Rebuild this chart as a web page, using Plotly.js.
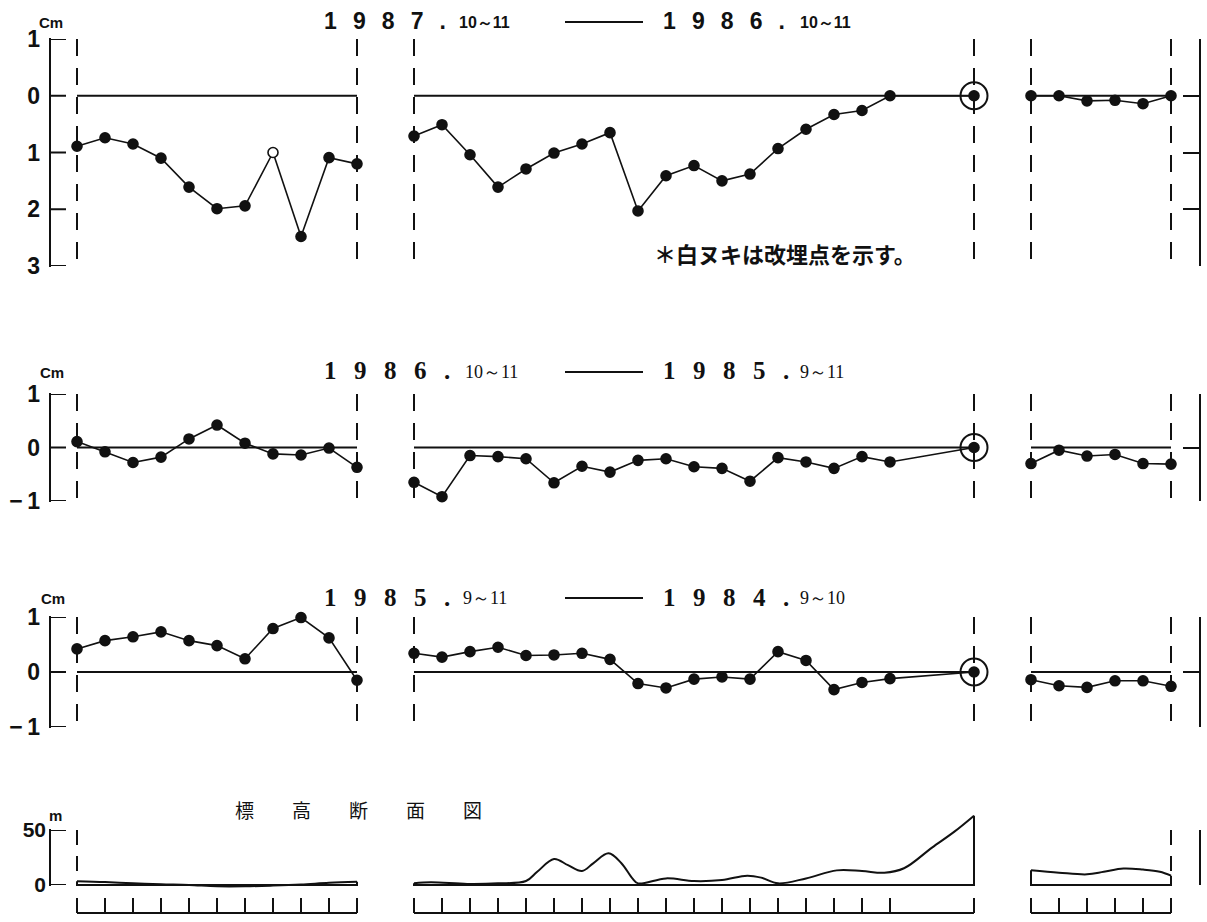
<!DOCTYPE html>
<html>
<head>
<meta charset="utf-8">
<script src="https://cdn.plot.ly/plotly-3.0.1.min.js"></script>
<style>html,body{margin:0;padding:0;background:#fff;}</style>
</head>
<body>
<div id="chart" style="width:1207px;height:922px;"></div>
<script>
// ================= DATA =================
// survey stations (bench-mark index within each route section)
const stationsLeft  = [0,1,2,3,4,5,6,7,8,9,10];
const stationsMid   = [0,1,2,3,4,5,6,7,8,9,10,11,12,13,14,15,16,17,20];
const stationsRight = [0,1,2,3,4,5];
const fixedStationMid = 20;          // fixed point (⊙)

// Panel 1 : 1987.10~11 − 1986.10~11  (cm, negative = subsidence)
const p1Left  = [-0.89,-0.74,-0.85,-1.10,-1.61,-1.99,-1.94,-1.00,-2.48,-1.09,-1.20];
const p1LeftReburied = [7];          // open circle = re-buried point
const p1Mid   = [-0.71,-0.51,-1.04,-1.61,-1.29,-1.01,-0.85,-0.65,-2.03,-1.41,-1.23,-1.50,-1.38,-0.93,-0.59,-0.33,-0.26,0.00,0.00];
const p1Right = [0.00,0.00,-0.09,-0.08,-0.14,0.00];

// Panel 2 : 1986.10~11 − 1985.9~11
const p2Left  = [0.11,-0.08,-0.28,-0.18,0.16,0.42,0.08,-0.12,-0.14,-0.01,-0.37];
const p2Mid   = [-0.65,-0.92,-0.15,-0.17,-0.21,-0.66,-0.35,-0.46,-0.24,-0.21,-0.36,-0.39,-0.63,-0.19,-0.27,-0.39,-0.17,-0.27,0.00];
const p2Right = [-0.30,-0.05,-0.16,-0.13,-0.30,-0.31];

// Panel 3 : 1985.9~11 − 1984.9~10
const p3Left  = [0.42,0.57,0.64,0.73,0.57,0.48,0.24,0.79,0.99,0.62,-0.15];
const p3Mid   = [0.34,0.27,0.37,0.45,0.30,0.31,0.34,0.23,-0.21,-0.29,-0.13,-0.09,-0.13,0.37,0.21,-0.32,-0.19,-0.12,0.00];
const p3Right = [-0.14,-0.25,-0.28,-0.16,-0.16,-0.26];

// Panel 4 : elevation profile (m) along the route
const elevLeftX  = [0,1,2,3,4,5,6,7,8,9,10];
const elevLeftY  = [3.5,2.7,1.5,0.6,0.0,-1.2,-1.2,-0.5,0.5,2.0,3.0];
const elevMidX   = [0,0.6,1.9,3,4,4.4,5,5.5,6,6.4,6.95,7.4,7.8,8,9,10,11,11.9,12.4,13,14,15.1,16,16.8,17.5,18.5,19.3,20];
const elevMidY   = [1.5,2.4,1.0,1.5,3.6,12,23.6,18,12.7,19.7,28.8,20,6,1.5,6,3.6,4.5,8.5,6.7,1.5,6,13.3,12.7,11.2,15.2,34,48.5,63];
const elevRightX = [0,1,2,2.6,3.3,4,4.6,5];
const elevRightY = [13.3,11.2,9.7,12,15,14,12,8.5];

// axis ticks / labels
const p1Range = [-3,1], p1TickVals = [-3,-2,-1,0,1], p1TickText = ["3","2","1","0","1"];
const p23Range = [-1,1], p23TickVals = [-1,0,1], p23TickText = ["\u2212\u20091","0","1"];
const p4Range = [0,50], p4TickVals = [0,50], p4TickText = ["0","50"];
const unitCm = "Cm", unitM = "m";

// titles
const titleFrom       = ["1987.","1986.","1985."];
const titleFromMonths = ["10～11","10～11","9～11"];
const titleTo         = ["1986.","1985.","1984."];
const titleToMonths   = ["10～11","9～11","9～10"];
const noteText    = "＊白ヌキは改埋点を示す。";
const profileTitle = "標高断面図";

// ================= LAYOUT / STYLE =================
const W = 1207, H = 922, STEP = 28;
const AXL = 50, AXR = 1199, TICKLEN = 16;
const segGeom = [
  {origin: 77,   lo: AXL, hi: 382},
  {origin: 414,  lo: 396, hi: 996},
  {origin: 1031, lo: 1010, hi: AXR}
];
const panelGeom = [
  {top: 39,  bottom: 266},
  {top: 394, bottom: 501},
  {top: 617, bottom: 727},
  {top: 830, bottom: 885}
];
const axisDefs = [
  {range: p1Range, vals: p1TickVals, text: p1TickText},
  {range: p23Range, vals: p23TickVals, text: p23TickText},
  {range: p23Range, vals: p23TickVals, text: p23TickText},
  {range: p4Range, vals: p4TickVals, text: p4TickText}
];
const px = v => v / W;
const py = v => 1 - v / H;
const BLK = '#111';

const layout = {
  width: W, height: H,
  margin: {l: 0, r: 0, t: 0, b: 0},
  paper_bgcolor: '#fff', plot_bgcolor: 'rgba(0,0,0,0)',
  showlegend: false, hovermode: false,
  annotations: [], shapes: []
};
segGeom.forEach((g, k) => {
  layout['xaxis' + (k ? k + 1 : '')] = {
    domain: [px(g.lo), px(g.hi)],
    range: [(g.lo - g.origin) / STEP, (g.hi - g.origin) / STEP],
    visible: false, fixedrange: true, anchor: 'y5'
  };
});
panelGeom.forEach((g, i) => {
  const d = axisDefs[i];
  const yid = i ? 'y' + (i + 1) : 'y';
  const base = {
    domain: [py(g.bottom), py(g.top)], range: d.range,
    tickmode: 'array', tickvals: d.vals, ticktext: d.text,
    showgrid: false, zeroline: false, fixedrange: true
  };
  // left axis: labels from Plotly, spine + inward ticks drawn as shapes
  layout['yaxis' + (i ? i + 1 : '')] = Object.assign({}, base, {
    side: 'left', anchor: 'x', showline: false, ticks: '',
    tickfont: {family: 'Liberation Sans, Arial, sans-serif', size: i === 3 ? 21 : 23, color: BLK, weight: 'bold'},
    ticklabelstandoff: i === 3 ? 3 : 9
  });
  layout.shapes.push({
    type: 'line', xref: 'paper', yref: 'paper', x0: px(AXL), x1: px(AXL),
    y0: py(g.bottom + 1), y1: py(g.top - 1), line: {color: BLK, width: 2}
  });
  d.vals.forEach(v => layout.shapes.push({
    type: 'line', xref: 'paper', yref: yid, x0: px(AXL), x1: px(AXL + TICKLEN),
    y0: v, y1: v, line: {color: BLK, width: 2}
  }));
  // right axis (bracket, no labels)
  layout['yaxis' + (i + 6)] = Object.assign({}, base, {
    side: 'right', anchor: 'x3', showticklabels: false,
    showline: true, linewidth: 2, linecolor: BLK,
    ticks: 'inside', ticklen: TICKLEN, tickwidth: 2, tickcolor: BLK
  });
});
// ruler axis and elevation drawing axis (same scale as panel 4, taller so the profile is not clipped)
layout.yaxis5 = {domain: [py(916), py(895)], range: [-0.2, 1.2], visible: false, fixedrange: true, anchor: 'x'};
const elevPxPerM = (panelGeom[3].bottom - panelGeom[3].top) / (p4Range[1] - p4Range[0]);
const elevTopPx = 780;
layout.yaxis10 = {domain: [py(panelGeom[3].bottom + 8), py(elevTopPx)],
  range: [-8 / elevPxPerM, (panelGeom[3].bottom - elevTopPx) / elevPxPerM],
  visible: false, fixedrange: true, anchor: 'x'};

// ================= TRACES =================
const traces = [];
function line(xa, ya, x, y, extra) {
  traces.push(Object.assign({
    type: 'scatter', mode: 'lines', xaxis: xa, yaxis: ya, x: x, y: y,
    line: {color: BLK, width: 2}, cliponaxis: false, hoverinfo: 'skip'
  }, extra || {}));
}
const DASH = '17px,12px';

const panels = [
  {left: p1Left, mid: p1Mid, right: p1Right, open: p1LeftReburied},
  {left: p2Left, mid: p2Mid, right: p2Right, open: []},
  {left: p3Left, mid: p3Mid, right: p3Right, open: []}
];
panels.forEach((p, i) => {
  const yl = i ? 'y' + (i + 1) : 'y';
  const yr = 'y' + (i + 6);
  const rng = axisDefs[i].range;
  const segs = [
    {xa: 'x',  ya: yl, st: stationsLeft,  v: p.left,  open: p.open},
    {xa: 'x2', ya: yl, st: stationsMid,   v: p.mid,   open: []},
    {xa: 'x3', ya: yr, st: stationsRight, v: p.right, open: []}
  ];
  segs.forEach((s, k) => {
    const a = s.st[0], b = s.st[s.st.length - 1];
    [a, b].forEach(xv => line(s.xa, s.ya, [xv, xv], [rng[1], rng[0]], {line: {color: BLK, width: 2, dash: DASH}}));
    line(s.xa, s.ya, [a, b], [0, 0], {line: {color: BLK, width: 2}});
    traces.push({
      type: 'scatter', mode: 'lines+markers', xaxis: s.xa, yaxis: s.ya,
      x: s.st, y: s.v, cliponaxis: false, hoverinfo: 'skip',
      line: {color: BLK, width: 1.6},
      marker: {size: 10, color: s.st.map(st => s.open.indexOf(st) >= 0 ? '#fff' : BLK),
               line: {color: BLK, width: 1.6}}
    });
    if (k === 1) {
      const idx = s.st.indexOf(fixedStationMid);
      traces.push({
        type: 'scatter', mode: 'markers', xaxis: s.xa, yaxis: s.ya,
        x: [fixedStationMid], y: [s.v[idx]], cliponaxis: false, hoverinfo: 'skip',
        marker: {symbol: 'circle-open', size: 27, color: BLK, line: {color: BLK, width: 2}}
      });
    }
  });
});

// panel 4 axes need a (blank) trace each so they are drawn
line('x', 'y4', [null], [null], {showlegend: false});
line('x3', 'y9', [null], [null], {showlegend: false});

// elevation profile
const elevSegs = [
  {xa: 'x',  x: elevLeftX,  y: elevLeftY,  dash: 'start'},
  {xa: 'x2', x: elevMidX,   y: elevMidY,   dash: null},
  {xa: 'x3', x: elevRightX, y: elevRightY, dash: 'end'}
];
elevSegs.forEach(s => {
  const a = s.x[0], b = s.x[s.x.length - 1];
  line(s.xa, 'y10', s.x, s.y, {line: {color: BLK, width: 2, shape: 'spline', smoothing: 1}});
  line(s.xa, 'y10', [b, b, a, a], [s.y[s.y.length - 1], 0, 0, s.y[0]], {line: {color: BLK, width: 2}});
  if (s.dash) {
    const xv = s.dash === 'start' ? a : b;
    line(s.xa, 'y10', [xv, xv], [p4Range[1], p4Range[0] + 6], {line: {color: BLK, width: 2, dash: '15px,11px'}});
  }
});

// distance ruler
[{xa: 'x', st: stationsLeft}, {xa: 'x2', st: stationsMid}, {xa: 'x3', st: stationsRight}].forEach(s => {
  const a = s.st[0], b = s.st[s.st.length - 1];
  line(s.xa, 'y5', [a, b], [0, 0], {line: {color: BLK, width: 2}});
  const tx = [], ty = [];
  s.st.forEach(v => { tx.push(v, v, null); ty.push(0, 1, null); });
  line(s.xa, 'y5', tx, ty, {line: {color: BLK, width: 2}});
});

// ================= TEXT =================
function ann(text, x, y, size, family, weight, xanchor) {
  layout.annotations.push({
    text: text, xref: 'paper', yref: 'paper', x: px(x), y: py(y),
    xanchor: xanchor || 'left', yanchor: 'middle', showarrow: false,
    font: {family: family, size: size, color: BLK, weight: weight || 'normal'}
  });
}
const spaced = s => s.split('').join('\u2002\u2009');
const SANS = 'Liberation Sans, Arial, sans-serif';
const SERIF = 'Liberation Serif, Times New Roman, serif';
const titleY = [21, 371, 597];
titleFrom.forEach((t, i) => {
  const fam = i === 0 ? SANS : SERIF;
  const big = i === 0 ? 23 : 25;
  const small = i === 0 ? 16 : 18;
  ann(spaced(t), 322, titleY[i], big, fam, 'bold');
  ann(titleFromMonths[i], [457, 463, 461][i], titleY[i] + 1, small, fam, i === 0 ? 'bold' : 'normal');
  layout.shapes.push({type: 'line', xref: 'paper', yref: 'paper',
    x0: px(565), x1: px(643), y0: py(titleY[i] + 1), y1: py(titleY[i] + 1), line: {color: BLK, width: 2}});
  ann(spaced(titleTo[i]), 661, titleY[i], big, fam, 'bold');
  ann(titleToMonths[i], 798, titleY[i] + 1, small, fam, i === 0 ? 'bold' : 'normal');
});
// units
ann(unitCm, 51, 22, 15, SANS, 'bold', 'center');
ann(unitCm, 52, 373, 15, SANS, 'bold', 'center');
ann(unitCm, 53, 598, 15, SANS, 'bold', 'center');
ann(unitM, 55, 815, 15, SANS, 'bold', 'center');
// note & profile title
ann(noteText, 652, 253, 22, 'Noto Sans CJK JP, sans-serif', 'bold');
ann(profileTitle.split('').join('\u3000\u3000'), 233, 809, 19, 'Noto Sans CJK JP, sans-serif', 'normal');

Plotly.newPlot('chart', traces, layout, {staticPlot: true, displayModeBar: false});
</script>
</body>
</html>
